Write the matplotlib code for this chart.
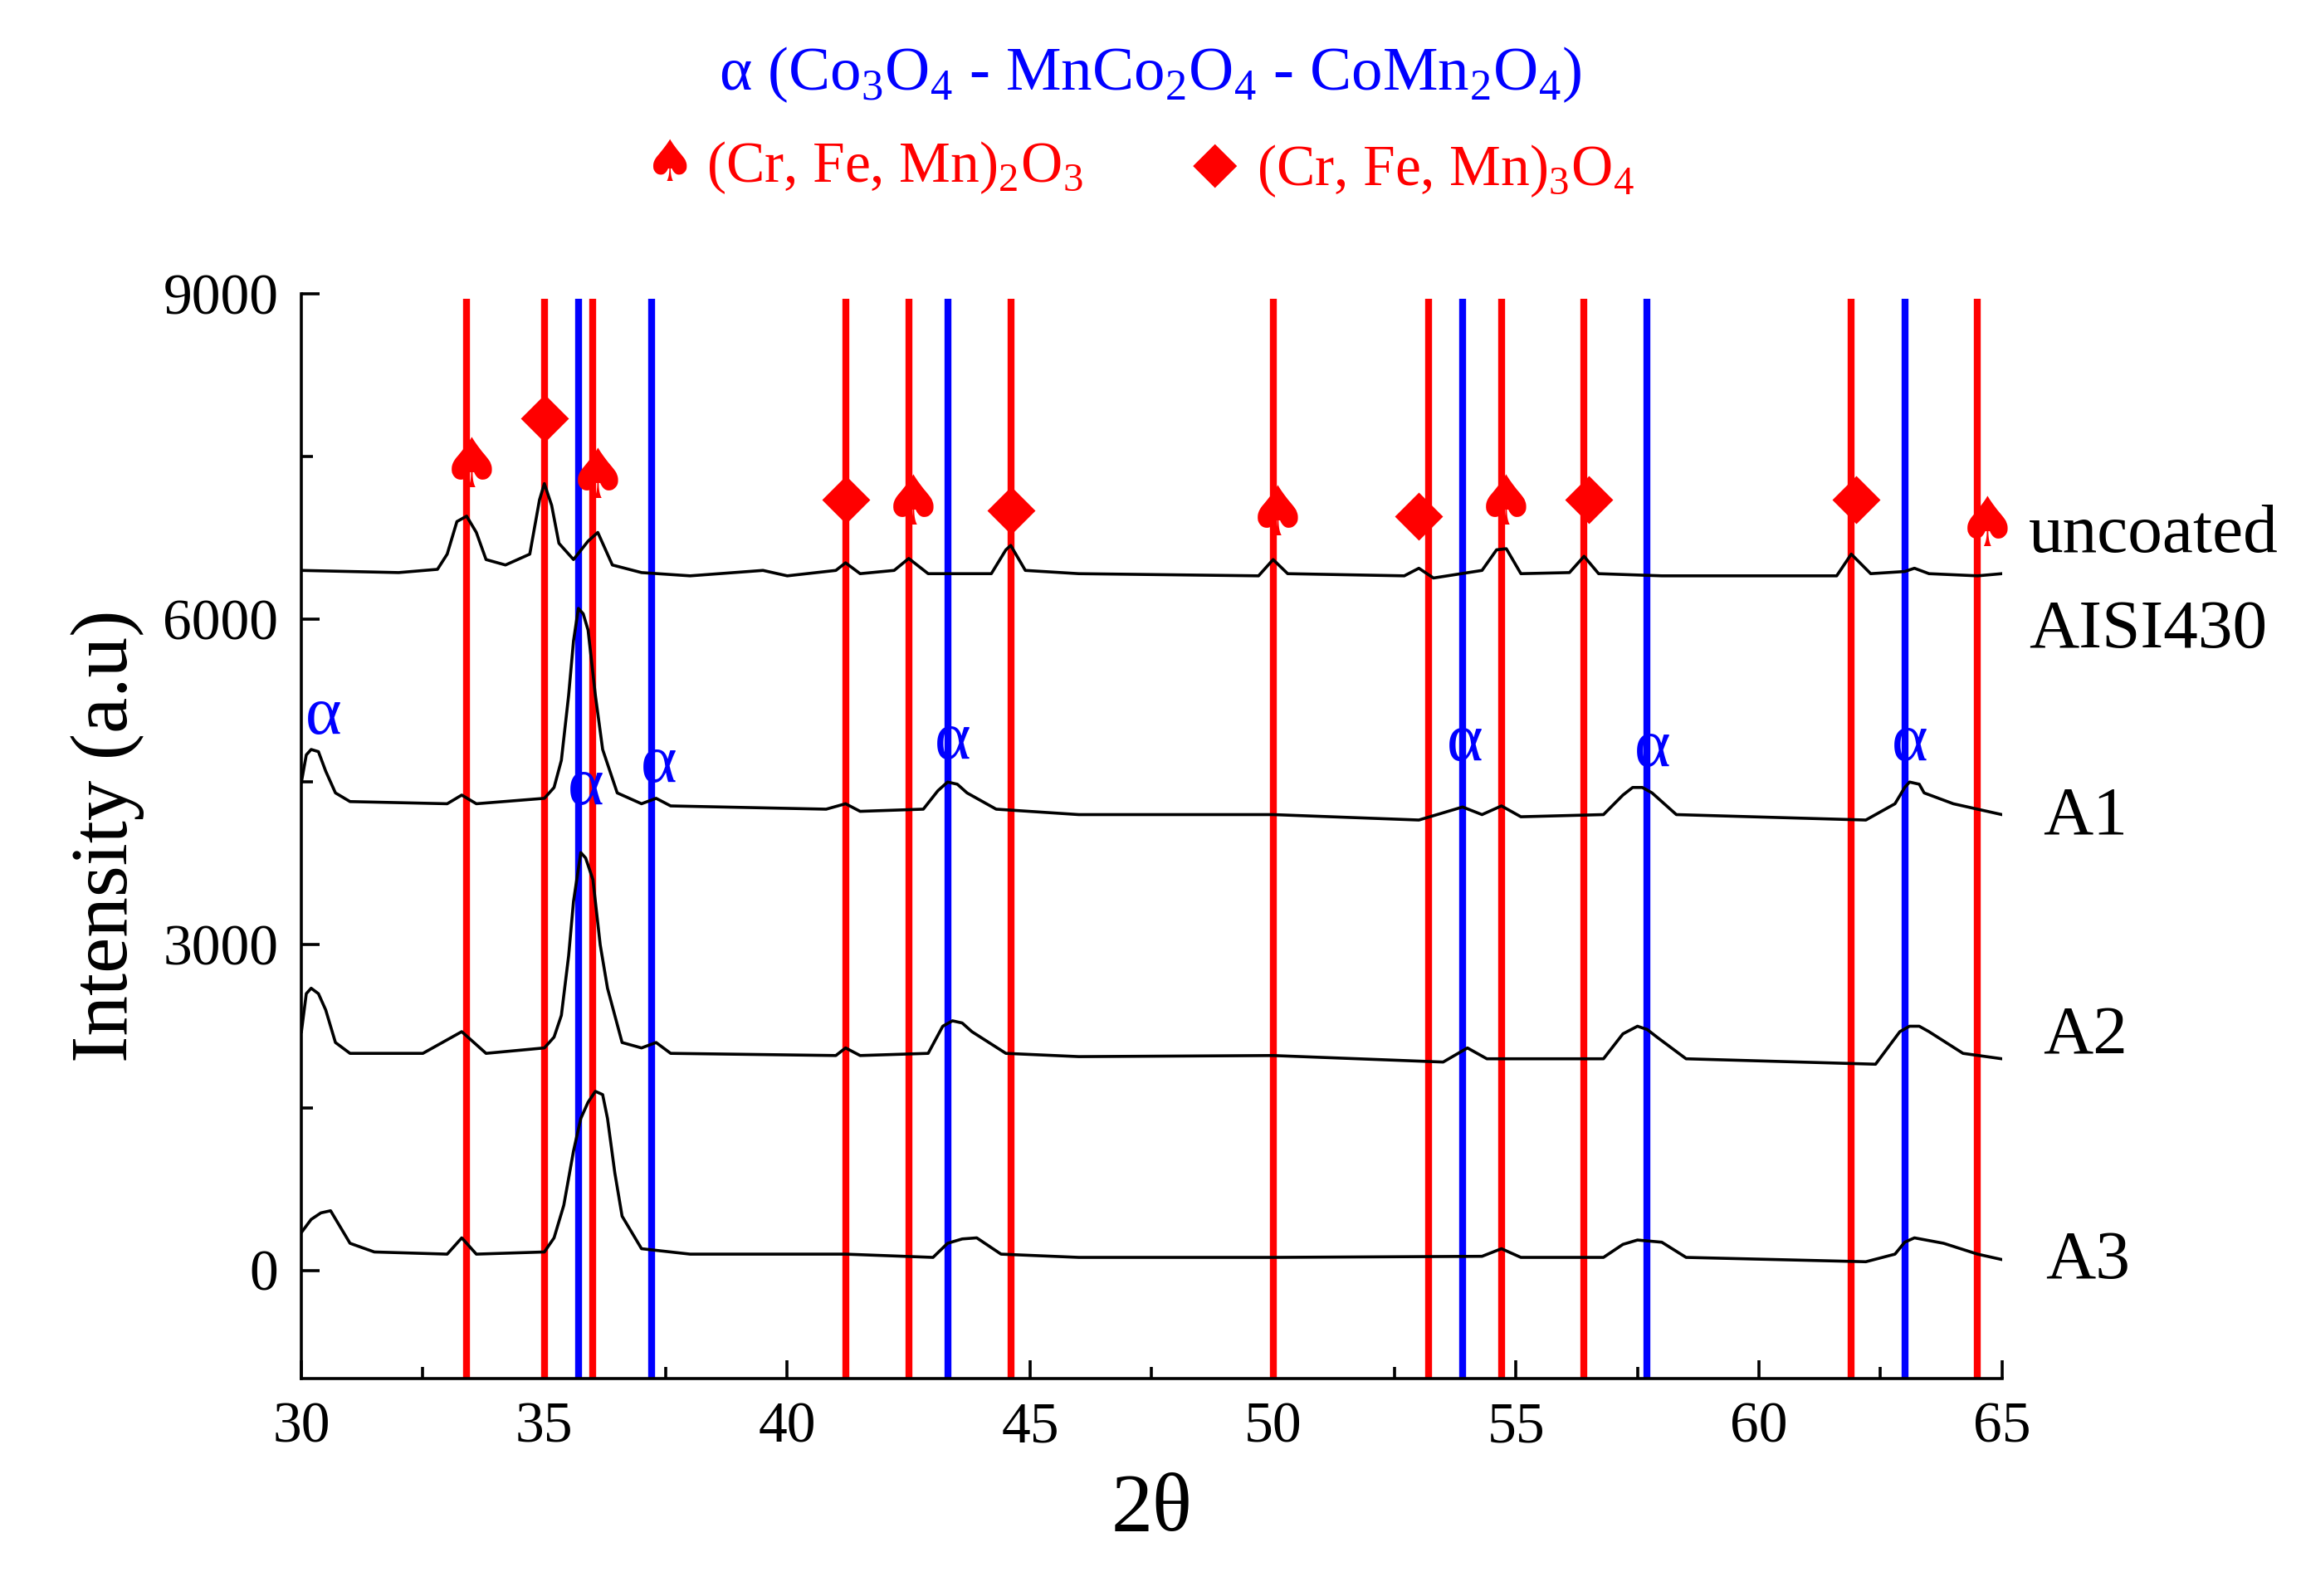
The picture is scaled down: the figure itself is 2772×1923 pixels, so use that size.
import matplotlib
matplotlib.use("Agg")
import matplotlib.pyplot as plt

plt.rcParams['font.family'] = ['Liberation Serif', 'DejaVu Serif']
plt.rcParams['mathtext.fontset'] = 'custom'
plt.rcParams['mathtext.rm'] = 'Liberation Serif'

# Traces (2theta, intensity)
unc_x = [30,31,32,32.8,33.0,33.2,33.4,33.6,33.8,34.2,34.7,34.9,35.0,35.15,35.3,35.6,35.9,36.1,36.4,37,38,39.5,40,41.0,41.2,41.5,42.2,42.5,42.9,44.2,44.5,44.6,44.9,46,49.7,50.0,50.3,52.7,53.0,53.3,54.3,54.6,54.8,55.1,56.1,56.4,56.7,58,61.6,61.9,62.3,63.0,63.2,63.5,64.5,65]
unc_y = [6450,6440,6430,6460,6600,6900,6950,6800,6550,6500,6600,7100,7250,7050,6700,6550,6720,6800,6500,6430,6400,6450,6400,6450,6520,6420,6450,6560,6420,6420,6640,6680,6450,6420,6400,6550,6420,6400,6470,6380,6450,6640,6650,6420,6430,6580,6420,6400,6400,6600,6420,6440,6470,6420,6400,6420]
a1_x = [30,30.1,30.2,30.35,30.5,30.7,31,33,33.3,33.6,35.0,35.2,35.35,35.5,35.6,35.7,35.8,35.9,36.05,36.2,36.5,37.0,37.3,37.6,40.8,41.2,41.5,42.8,43.1,43.3,43.5,43.7,44.3,46,50.0,53,53.9,54.3,54.7,55.1,56.8,57.2,57.4,57.6,57.8,58.3,62.2,62.8,63.0,63.1,63.3,63.4,64,65]
a1_y = [4500,4750,4800,4780,4600,4400,4320,4300,4380,4300,4350,4450,4700,5300,5800,6100,6050,5900,5300,4800,4400,4300,4350,4280,4250,4300,4230,4250,4420,4500,4480,4400,4250,4200,4200,4150,4270,4200,4280,4180,4200,4380,4450,4450,4400,4200,4150,4300,4450,4500,4480,4400,4300,4200]
a2_x = [30,30.1,30.2,30.35,30.5,30.7,31,32.5,33.3,33.8,35.0,35.2,35.35,35.5,35.6,35.75,35.85,36.0,36.15,36.3,36.6,37.0,37.3,37.6,41,41.2,41.5,42.9,43.2,43.4,43.6,43.8,44.5,46,50,53.5,54.0,54.4,56.8,57.2,57.5,57.7,57.9,58.5,62.4,62.9,63.1,63.3,63.5,64.2,65]
a2_y = [2200,2550,2600,2550,2400,2100,2000,2000,2200,2000,2050,2150,2350,2900,3400,3850,3800,3600,3000,2600,2100,2050,2100,2000,1980,2050,1980,2000,2250,2300,2280,2200,2000,1970,1980,1920,2050,1950,1950,2180,2250,2220,2150,1950,1900,2200,2250,2250,2200,2000,1950]
a3_x = [30,30.2,30.4,30.6,30.8,31.0,31.5,33,33.3,33.6,35.0,35.2,35.4,35.6,35.75,35.9,36.05,36.2,36.3,36.45,36.6,37.0,38,41.2,43.0,43.3,43.6,43.9,44.4,46,50,54.3,54.7,55.1,56.8,57.2,57.5,58.0,58.5,62.2,62.8,63.0,63.2,63.8,64.5,65]
a3_y = [350,470,530,550,400,250,170,150,300,150,170,300,600,1100,1400,1550,1650,1620,1400,900,500,200,150,150,120,250,290,300,150,120,120,130,200,120,120,240,280,260,120,80,150,260,300,250,150,100]

red_lines = [33.4, 35.0, 36.0, 41.2, 42.5, 44.6, 50.0, 53.2, 54.7, 56.4, 61.9, 64.5]
blue_lines = [35.7, 37.2, 43.3, 53.9, 57.7, 63.0]
spade_x = [33.5, 36.1, 42.6, 50.1, 54.8, 64.7]
spade_y = [7400, 7300, 7050, 6950, 7050, 6850]
diam_x = [35.0, 41.2, 44.6, 53.0, 56.5, 62.0]
diam_y = [7850, 7100, 7000, 6950, 7100, 7100]
alpha_x = [30.45, 35.85, 37.35, 43.4, 53.95, 57.8, 63.1]
alpha_y = [5100, 4450, 4650, 4870, 4850, 4800, 4850]
trace_labels = ["uncoated", "AISI430", "A1", "A2", "A3"]
label_x = [65.55, 65.55, 65.85, 65.85, 65.9]
label_y = [6770, 5890, 4175, 2150, 80]

fig = plt.figure(figsize=(13.86, 9.615), dpi=200)
ax = fig.add_axes([0.131, 0.136, 0.739, 0.68])
for xs, ys in [(unc_x, unc_y), (a1_x, a1_y), (a2_x, a2_y), (a3_x, a3_y)]:
    ax.plot(xs, ys, color='black', lw=1.3, zorder=3)
for x in red_lines:
    ax.plot([x, x], [-1000, 8950], color='#ff0000', lw=3, zorder=2, solid_capstyle='butt')
for x in blue_lines:
    ax.plot([x, x], [-1000, 8950], color='#0000ff', lw=3, zorder=2, solid_capstyle='butt')
for x, y in zip(spade_x, spade_y):
    ax.text(x, y, '♠', color='#ff0000', fontsize=30, ha='center', va='center', family=['DejaVu Sans'], zorder=4)
ax.plot(diam_x, diam_y, 'D', color='#ff0000', ms=14, zorder=4)
for x, y in zip(alpha_x, alpha_y):
    ax.text(x, y, 'α', color='#0000ff', fontsize=30, ha='center', va='center', zorder=4)
for t, x, y in zip(trace_labels, label_x, label_y):
    ax.text(x, y, t, fontsize=30, ha='left', va='center', clip_on=False)

ax.set_xlim(30, 65)
ax.set_ylim(-1000, 9000)
ax.set_xticks([30, 35, 40, 45, 50, 55, 60, 65])
ax.set_xticks([32.5, 37.5, 42.5, 47.5, 52.5, 57.5, 62.5], minor=True)
ax.set_yticks([0, 3000, 6000, 9000])
ax.set_yticks([1500, 4500, 7500], minor=True)
ax.tick_params(direction='in', labelsize=25, length=8, width=1.3, pad=10)
ax.tick_params(which='minor', direction='in', length=5, width=1.3)
ax.spines['top'].set_visible(False)
ax.spines['right'].set_visible(False)
for s in ['left', 'bottom']:
    ax.spines[s].set_linewidth(1.3)
ax.set_xlabel('2θ', fontsize=36, labelpad=8)
ax.set_ylabel('Intensity (a.u)', fontsize=35, labelpad=8)

fig.text(0.5, 0.953, r'α (Co$_3$O$_4$ - MnCo$_2$O$_4$ - CoMn$_2$O$_4$)', color='#0000ff', fontsize=27, ha='center', va='center')
fig.text(0.291, 0.897, '♠', color='#ff0000', fontsize=25, ha='center', va='center', family=['DejaVu Sans'])
fig.text(0.307, 0.895, r'(Cr, Fe, Mn)$_2$O$_3$', color='#ff0000', fontsize=25, ha='left', va='center')
fig.text(0.528, 0.897, '◆', color='#ff0000', fontsize=25, ha='center', va='center', family=['DejaVu Sans'])
fig.text(0.546, 0.893, r'(Cr, Fe, Mn)$_3$O$_4$', color='#ff0000', fontsize=25, ha='left', va='center')

fig.savefig('out.png', dpi=200, facecolor='white')
